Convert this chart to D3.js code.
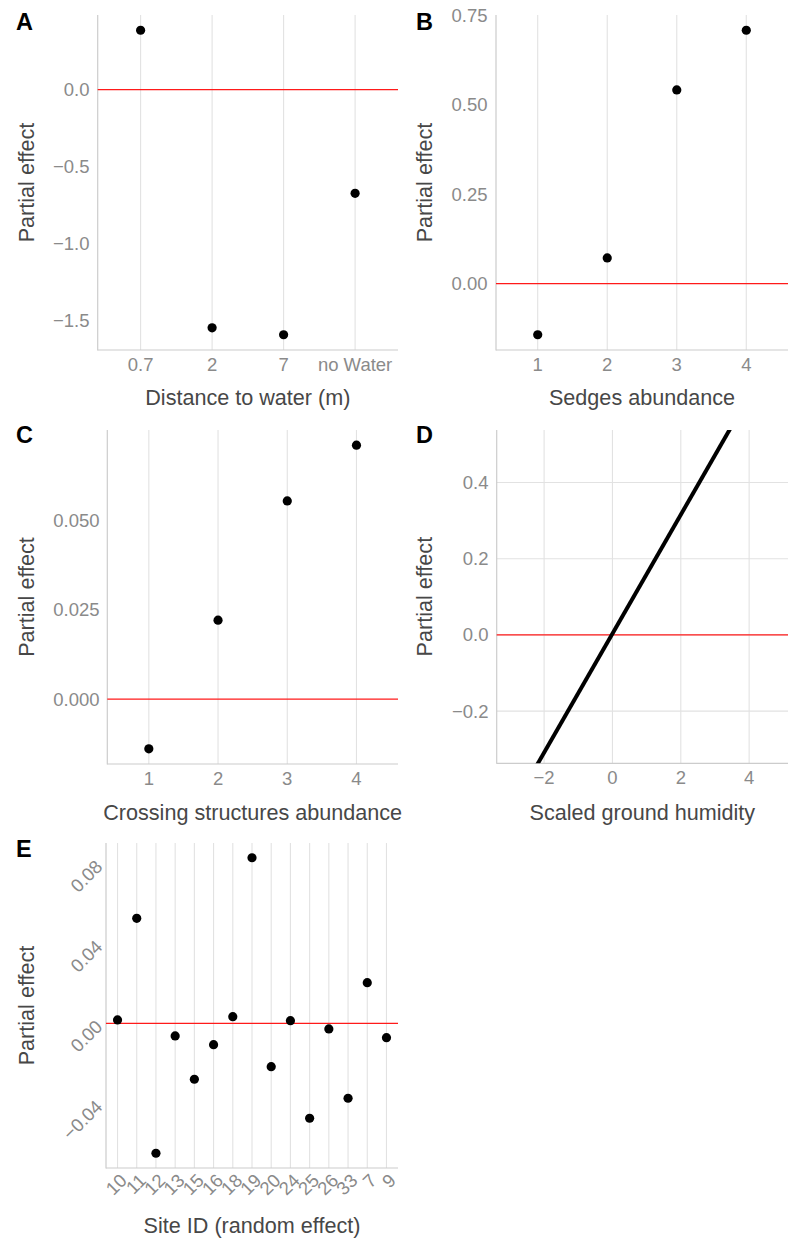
<!DOCTYPE html>
<html>
<head>
<meta charset="utf-8">
<script src="https://cdnjs.cloudflare.com/ajax/libs/d3/7.8.5/d3.min.js"></script>
<style>
  body { margin: 0; background: #fff; }
  svg text { font-family: "Liberation Sans", Arial, sans-serif; }
</style>
</head>
<body>
<svg id="chart" width="788" height="1239"></svg>
<script>
// Panel A: distance to water
const waterCats = ["0.7", "2", "7", "no Water"];
const waterEffect = [0.386, -1.545, -1.59, -0.672];
const waterTicks = [0, -0.5, -1.0, -1.5];

// Panel B: sedges
const sedgeCats = ["1", "2", "3", "4"];
const sedgeEffect = [-0.143, 0.072, 0.542, 0.709];
const sedgeTicks = [0, 0.25, 0.5, 0.75];

// Panel C: crossing structures
const crossCats = ["1", "2", "3", "4"];
const crossEffect = [-0.0139, 0.0221, 0.0555, 0.0711];
const crossTicks = [0, 0.025, 0.05];

// Panel D: humidity (fitted line end points)
const humidityX = [-3.0, 4.75];
const humidityEffect = [-0.465, 0.745];
const humidityYLim = [-0.337, 0.538];
const humidityXTicks = [-2, 0, 2, 4];
const humidityYTicks = [-0.2, 0, 0.2, 0.4];

// Panel E: site random effect
const siteCats = ["10", "11", "12", "13", "15", "16", "18", "19", "20", "24", "25", "26", "33", "7", "9"];
const siteEffect = [0.0017, 0.0525, -0.065, -0.0063, -0.028, -0.0107, 0.0033, 0.0828, -0.0217, 0.0013, -0.0475, -0.0028, -0.0375, 0.0203, -0.0072];
const siteTicks = [-0.04, 0, 0.04, 0.08];

const svg = d3.select("#chart");
const tickCol = "#8a8a8a", titleCol = "#474747", gridCol = "#e2e2e2", axisCol = "#cccccc";
const tickSize = 18.5, titleSize = 21.6, ptR = 4.6;

// expand like ggplot (5%)
function expand(vals) {
  const [lo, hi] = d3.extent(vals), d = (hi - lo) * 0.05;
  return [lo - d, hi + d];
}

function minus(s) { return s.replace("-", "\u2212"); }

function panel(o) {
  const g = svg.append("g");
  const { left, right, top, bottom } = o;
  const x = o.x, y = o.y;

  // grid
  const xPos = o.cats ? o.cats.map(c => x(c)) : o.xTicks.map(v => x(v));
  g.selectAll(".vg").data(xPos).join("line")
    .attr("x1", d => d).attr("x2", d => d)
    .attr("y1", top).attr("y2", bottom)
    .attr("stroke", gridCol).attr("stroke-width", 1.1);
  if (o.hgrid) {
    g.selectAll(".hg").data(o.yTicks).join("line")
      .attr("x1", left).attr("x2", right)
      .attr("y1", d => y(d)).attr("y2", d => y(d))
      .attr("stroke", gridCol).attr("stroke-width", 1.1);
  }

  // axis lines
  g.append("line").attr("x1", left).attr("x2", left).attr("y1", top).attr("y2", bottom + 0.5)
    .attr("stroke", axisCol).attr("stroke-width", 1.2);
  g.append("line").attr("x1", left).attr("x2", right).attr("y1", bottom).attr("y2", bottom)
    .attr("stroke", axisCol).attr("stroke-width", 1.2);

  // zero line
  g.append("line").attr("x1", left).attr("x2", right)
    .attr("y1", y(0)).attr("y2", y(0))
    .attr("stroke", "#ff1a1a").attr("stroke-width", 1.3);

  // y tick labels
  g.selectAll(".yt").data(o.yTicks).join("text")
    .attr("fill", tickCol).attr("font-size", tickSize)
    .each(function (d) {
      const t = d3.select(this);
      if (o.rotY) {
        t.attr("text-anchor", "end").attr("dominant-baseline", "central")
          .attr("transform", `translate(${o.yLabX},${y(d)}) rotate(-45)`);
      } else {
        t.attr("text-anchor", "end").attr("dominant-baseline", "central")
          .attr("x", o.yLabX).attr("y", y(d));
      }
    })
    .text(d => minus(o.yFmt(d)));

  // x tick labels
  const xLabs = o.cats ? o.cats.map(c => ({ p: x(c), t: c })) : o.xTicks.map(v => ({ p: x(v), t: minus(String(v)) }));
  g.selectAll(".xt").data(xLabs).join("text")
    .attr("fill", tickCol).attr("font-size", tickSize)
    .each(function (d) {
      const t = d3.select(this);
      if (o.rotX) {
        t.attr("text-anchor", "end").attr("dominant-baseline", "hanging")
          .attr("transform", `translate(${d.p + 1},${bottom + 4}) rotate(-45)`);
      } else {
        t.attr("text-anchor", "middle").attr("x", d.p).attr("y", bottom + 21);
      }
    })
    .text(d => d.t);

  // titles
  g.append("text").attr("x", (left + right) / 2).attr("y", o.xTitleY)
    .attr("text-anchor", "middle").attr("fill", titleCol).attr("font-size", titleSize)
    .text(o.xTitle);
  g.append("text").attr("text-anchor", "middle").attr("dominant-baseline", "central")
    .attr("fill", titleCol).attr("font-size", titleSize)
    .attr("transform", `translate(${o.yTitleX},${(top + bottom) / 2}) rotate(-90)`)
    .text("Partial effect");

  // panel tag
  g.append("text").attr("x", o.tagX).attr("y", o.tagY)
    .attr("font-weight", "bold").attr("font-size", 23.5).attr("fill", "#000")
    .text(o.tag);
  return g;
}

function band(cats, left, right) {
  const n = cats.length, step = (right - left) / (n - 1 + 1.2);
  return d3.scalePoint().domain(cats).range([left + 0.6 * step, right - 0.6 * step]);
}

// ---- A
{
  const left = 97.7, right = 398, top = 15, bottom = 350;
  const x = band(waterCats, left, right);
  const y = d3.scaleLinear().domain(expand(waterEffect)).range([bottom, top]);
  const g = panel({ left, right, top, bottom, x, y, cats: waterCats, yTicks: waterTicks,
    yFmt: d3.format(".1f"), yLabX: 89.5, xTitle: "Distance to water (m)", xTitleY: 405,
    yTitleX: 26, tag: "A", tagX: 16, tagY: 30 });
  g.selectAll(".pt").data(waterEffect).join("circle")
    .attr("cx", (d, i) => x(waterCats[i])).attr("cy", d => y(d)).attr("r", ptR).attr("fill", "#000");
}

// ---- B
{
  const left = 496, right = 788, top = 15, bottom = 350;
  const x = band(sedgeCats, left, right);
  const y = d3.scaleLinear().domain(expand(sedgeEffect)).range([bottom, top]);
  const g = panel({ left, right, top, bottom, x, y, cats: sedgeCats, yTicks: sedgeTicks,
    yFmt: d3.format(".2f"), yLabX: 487.5, xTitle: "Sedges abundance", xTitleY: 405,
    yTitleX: 424, tag: "B", tagX: 416, tagY: 30 });
  g.selectAll(".pt").data(sedgeEffect).join("circle")
    .attr("cx", (d, i) => x(sedgeCats[i])).attr("cy", d => y(d)).attr("r", ptR).attr("fill", "#000");
}

// ---- C
{
  const left = 107.3, right = 398, top = 430, bottom = 764;
  const x = band(crossCats, left, right);
  const y = d3.scaleLinear().domain(expand(crossEffect)).range([bottom, top]);
  const g = panel({ left, right, top, bottom, x, y, cats: crossCats, yTicks: crossTicks,
    yFmt: d3.format(".3f"), yLabX: 99.5, xTitle: "Crossing structures abundance", xTitleY: 820,
    yTitleX: 26, tag: "C", tagX: 16, tagY: 443 });
  g.selectAll(".pt").data(crossEffect).join("circle")
    .attr("cx", (d, i) => x(crossCats[i])).attr("cy", d => y(d)).attr("r", ptR).attr("fill", "#000");
}

// ---- D
{
  const left = 496.7, right = 788, top = 430, bottom = 763.3;
  const x = d3.scaleLinear().domain(expand(humidityX)).range([left, right]);
  const y = d3.scaleLinear().domain(humidityYLim).range([bottom, top]);
  const g = panel({ left, right, top, bottom, x, y, xTicks: humidityXTicks, yTicks: humidityYTicks,
    hgrid: true, yFmt: d3.format(".1f"), yLabX: 488.5, xTitle: "Scaled ground humidity", xTitleY: 820,
    yTitleX: 424, tag: "D", tagX: 416, tagY: 443 });
  svg.append("clipPath").attr("id", "clipD").append("rect")
    .attr("x", left).attr("y", top).attr("width", right - left).attr("height", bottom - top);
  const line = d3.line().x(d => x(d[0])).y(d => y(d[1]));
  g.append("path").datum(d3.zip(humidityX, humidityEffect))
    .attr("d", line).attr("clip-path", "url(#clipD)")
    .attr("fill", "none").attr("stroke", "#000").attr("stroke-width", 4);
}

// ---- E
{
  const left = 106, right = 398, top = 843, bottom = 1168;
  const x = band(siteCats, left, right);
  const y = d3.scaleLinear().domain(expand(siteEffect)).range([bottom, top]);
  const g = panel({ left, right, top, bottom, x, y, cats: siteCats, yTicks: siteTicks,
    yFmt: d3.format(".2f"), yLabX: 99, rotY: true, rotX: true, xTitle: "Site ID (random effect)", xTitleY: 1233,
    yTitleX: 26, tag: "E", tagX: 16, tagY: 857 });
  g.selectAll(".pt").data(siteEffect).join("circle")
    .attr("cx", (d, i) => x(siteCats[i])).attr("cy", d => y(d)).attr("r", ptR).attr("fill", "#000");
}
</script>
</body>
</html>
